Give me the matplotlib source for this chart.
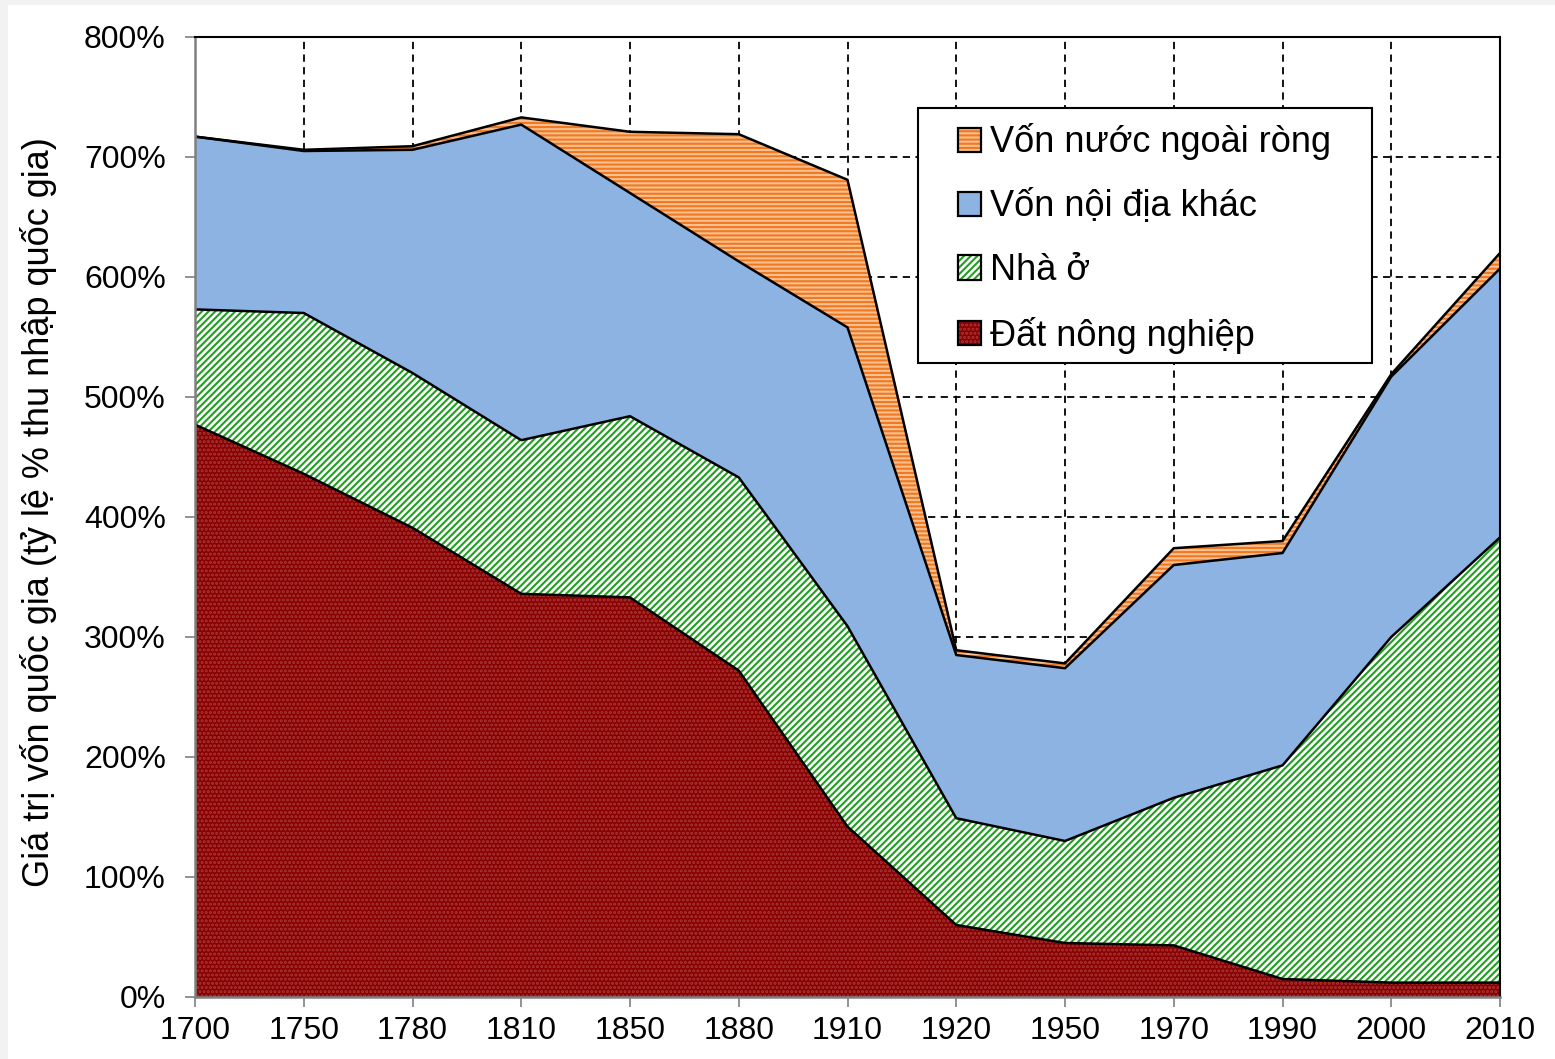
import matplotlib
matplotlib.use("Agg")
import matplotlib.pyplot as plt
import numpy as np
from matplotlib.patches import Patch, Rectangle
from matplotlib.legend_handler import HandlerTuple

plt.rcParams['font.family'] = ['Liberation Sans', 'DejaVu Sans']

years = ["1700", "1750", "1780", "1810", "1850", "1880", "1910", "1920", "1950", "1970", "1990", "2000", "2010"]
# cumulative tops (% of national income)
agri = [477, 436, 391, 336, 333, 272, 142, 60, 45, 43, 15, 12, 12]
housing_top = [573, 570, 520, 464, 484, 433, 309, 149, 130, 166, 193, 300, 383]
other_top = [717, 705, 706, 727, 670, 613, 558, 285, 274, 360, 370, 517, 607]
foreign_top = [717, 706, 709, 733, 721, 719, 681, 289, 278, 374, 380, 519, 620]

labels = ["Vốn nước ngoài ròng", "Vốn nội địa khác", "Nhà ở", "Đất nông nghiệp"]
ylabel = "Giá trị vốn quốc gia (tỷ lệ % thu nhập quốc gia)"

plt.rcParams['hatch.linewidth'] = 1.5

styles = {
    'foreign': dict(facecolor='#FAC090', edgecolor='#F07820', hatch='----'),
    'other': dict(facecolor='#8DB3E2', edgecolor='#8DB3E2', hatch=None),
    'housing': dict(facecolor='white', edgecolor='#1EA01E', hatch='/////'),
    'agri': dict(facecolor='#880000', edgecolor='#A83838', hatch='....'),
}

fig = plt.figure(figsize=(15.55, 10.59), dpi=100, facecolor='#f2f2f2')
bg = fig.add_axes([8/1555, 0, 1 - 8/1555, 1 - 5/1059])
bg.set_facecolor('white'); bg.set_xticks([]); bg.set_yticks([])
for s in bg.spines.values(): s.set_visible(False)

ax = fig.add_axes([195/1555, 1 - 997/1059, (1500 - 195)/1555, (997 - 37)/1059])
ax.set_facecolor('none')
x = np.arange(len(years))
zero = np.zeros(len(years))

ax.fill_between(x, zero, agri, linewidth=0, zorder=2, **styles['agri'])
ax.fill_between(x, agri, housing_top, linewidth=0, zorder=2, **styles['housing'])
ax.fill_between(x, housing_top, other_top, linewidth=0, zorder=2, **styles['other'])
ax.fill_between(x, other_top, foreign_top, linewidth=0, zorder=2, **styles['foreign'])
for s in [agri, housing_top, other_top, foreign_top]:
    ax.plot(x, s, color='black', lw=1.8, zorder=3)

ax.set_xlim(0, len(years) - 1)
ax.set_ylim(0, 800)
ax.set_xticks(x)
ax.set_xticklabels(years, fontsize=23)
ax.set_yticks(np.arange(0, 801, 100))
ax.set_yticklabels([f"{v}%" for v in range(0, 801, 100)], fontsize=23)
ax.tick_params(axis='y', direction='out', length=7, color='#808080', width=1.2, pad=14)
ax.tick_params(axis='x', direction='out', length=7, color='#808080', width=1.2, pad=7)
ax.grid(True, color='black', linestyle=(0, (4, 3)), linewidth=1.3, zorder=0)
ax.set_axisbelow(True)
ax.spines['left'].set_color('#808080'); ax.spines['left'].set_linewidth(1.8)
ax.spines['bottom'].set_color('#808080'); ax.spines['bottom'].set_linewidth(1.8)
ax.spines['top'].set_color('black'); ax.spines['top'].set_linewidth(1.5)
ax.spines['right'].set_color('black'); ax.spines['right'].set_linewidth(1.5)
for sp in ax.spines.values(): sp.set_zorder(4)
ax.set_ylabel(ylabel, fontsize=26)
ax.yaxis.set_label_coords(-0.106, 0.505)

# legend frame drawn as rectangle (axes coords)
frame = Rectangle((0.554, 0.660), 0.902 - 0.554, 0.926 - 0.660, transform=ax.transAxes,
                  facecolor='white', edgecolor='black', lw=1.5, zorder=5)
ax.add_patch(frame)

handles = []
for key in ['foreign', 'other', 'housing', 'agri']:
    st = styles[key]
    fill = Patch(facecolor=st['facecolor'], edgecolor=st['edgecolor'], hatch=st['hatch'], lw=0)
    border = Patch(facecolor='none', edgecolor='black', lw=1.6)
    handles.append((fill, border))

leg = ax.legend(handles, labels, loc='upper left', bbox_to_anchor=(0.5845, 0.910),
                handler_map={tuple: HandlerTuple(ndivide=1, pad=0)},
                fontsize=26, frameon=False,
                handlelength=0.65, handleheight=0.65, handletextpad=0.25,
                labelspacing=0.8, borderpad=0, borderaxespad=0)
leg.set_zorder(6)

fig.savefig('out.png', dpi=100, facecolor=fig.get_facecolor())
